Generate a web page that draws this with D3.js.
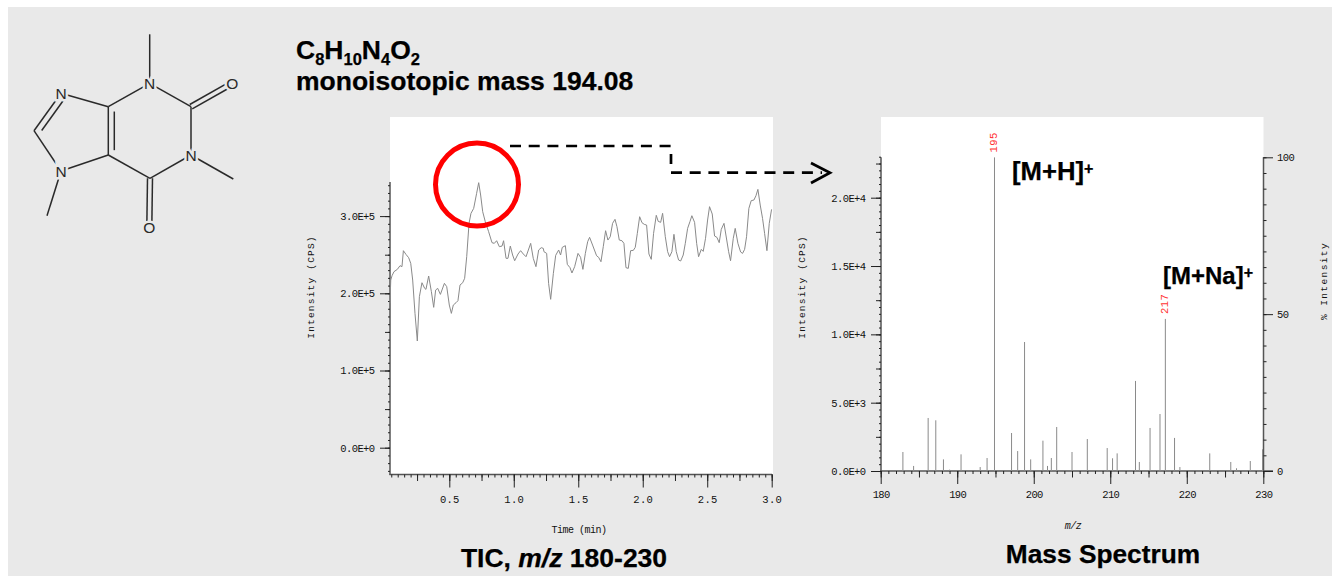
<!DOCTYPE html>
<html>
<head>
<meta charset="utf-8">
<script src="https://cdn.jsdelivr.net/npm/d3@7"></script>
<style>
  html, body { margin: 0; padding: 0; background: #fff; }
  svg { display: block; }
  .tick-label { font-family: "Liberation Mono", monospace; font-size: 10.5px; fill: #111; }
  .bold { font-family: "Liberation Sans", Arial, sans-serif; font-weight: bold; fill: #000; stroke: #000; stroke-width: 0.25px; }
</style>
</head>
<body>
<script>
// TIC trace, time in min and intensity in CPS
var ticTime = [0.040,0.046,0.056,0.071,0.097,0.118,0.133,0.144,0.164,0.185,0.201,0.216,0.234,0.252,0.268,0.288,0.309,0.319,0.340,0.361,0.379,0.394,0.410,0.431,0.462,0.480,0.500,0.516,0.531,0.552,0.567,0.583,0.604,0.619,0.635,0.653,0.668,0.689,0.712,0.728,0.743,0.759,0.779,0.805,0.831,0.849,0.867,0.888,0.909,0.921,0.940,0.955,0.973,0.991,1.007,1.033,1.053,1.074,1.095,1.131,1.151,1.172,1.193,1.213,1.229,1.234,1.255,1.270,1.286,1.307,1.325,1.348,1.363,1.376,1.400,1.415,1.436,1.451,1.472,1.498,1.518,1.536,1.555,1.573,1.588,1.611,1.642,1.658,1.676,1.694,1.712,1.730,1.748,1.766,1.785,1.800,1.818,1.839,1.854,1.870,1.888,1.906,1.927,1.942,1.958,1.976,1.994,2.012,2.030,2.048,2.066,2.084,2.105,2.120,2.139,2.154,2.175,2.193,2.208,2.226,2.242,2.260,2.278,2.294,2.314,2.330,2.348,2.366,2.381,2.402,2.418,2.433,2.454,2.469,2.487,2.503,2.518,2.539,2.557,2.575,2.593,2.609,2.630,2.645,2.666,2.681,2.702,2.717,2.738,2.759,2.774,2.790,2.805,2.823,2.841,2.862,2.878,2.893,2.911,2.929,2.945,2.963,2.981,2.999];
var ticIntensity = [187000,217200,222800,228000,231000,235800,234500,255200,250400,246100,238800,217200,174000,138200,195600,213700,206400,205100,222400,202100,181800,204200,206400,198600,212900,208600,184800,174000,184800,187800,190400,210700,213700,219400,247400,290600,303500,310000,329500,343300,327300,305700,292800,279800,265600,264700,268100,260400,261200,268100,245300,245300,261200,249600,242200,250900,255200,250900,247400,264700,245300,234500,256100,259100,258200,253900,251700,212900,192200,225800,249200,256100,249600,259500,261700,237500,233200,226300,234500,251700,246600,231000,251700,266900,272500,262500,248700,246600,240900,260400,281100,269000,273300,290600,295800,286300,269000,268100,264700,233200,232300,255200,255600,259500,277600,299200,291500,289300,288400,250900,244000,277600,301000,293200,291900,303600,273300,253900,247400,253900,276400,253900,243100,241800,249600,264700,284100,292800,300500,291900,264700,247400,256900,254300,271200,294900,312200,302700,274200,272500,265600,282800,290600,275500,253900,242200,271200,284100,264700,253500,251700,256900,273300,310000,320000,320800,326400,334600,314300,297100,277600,255200,290600,308700];

// spectrum peaks, m/z and intensity in CPS
var peakMz = [182.9,184.3,186.2,187.2,188.2,189.0,190.5,193.0,193.9,194.87,197.1,197.9,198.8,199.6,201.2,201.8,202.3,203.0,205.0,207.0,209.6,210.3,210.9,213.3,213.8,215.2,216.5,217.2,218.4,219.1,223.0,225.75,226.5,228.3,229.9];
var peakIntensity = [1390,370,3880,3710,850,100,1220,290,950,22950,2780,1460,9440,850,2220,370,950,3220,1390,2340,1680,930,1290,6590,660,3150,4170,11130,2420,290,1290,660,200,730,1590];
var labelledPeaks = [194.87, 217.2];
var labelledText = ["195", "217"];

// tick labels
var ticXLabels = [0.5, 1.0, 1.5, 2.0, 2.5, 3.0];
var ticYLabels = [0, 100000, 200000, 300000];
var msXLabels = [180, 190, 200, 210, 220, 230];
var msYLabels = [0, 5000, 10000, 15000, 20000];
var pctLabels = [0, 50, 100];

// caffeine structure
var atomNames = ["N3","C2","O2","N1","Me1","C6","O6","C5","C4","N7","C8","N9","Me9","Me3"];
var atomX = [149.7,191,232.3,191,233.3,150,149.3,108.3,108.3,61,34,61,47,149.7];
var atomY = [83.3,106.7,83.3,155,179,178.3,227.3,155,106.7,93.3,130.7,171,215.7,34.3];
var atomText = ["N","","O","N","","","O","","","N","","N","",""];
var bondFrom = ["N3","C2","C2","N1","C6","C6","C5","C4","C4","N7","C8","N9","N1","N9","N3"];
var bondTo = ["C2","O2","N1","C6","O6","C5","C4","N3","N7","C8","N9","C5","Me1","Me9","Me3"];
var bondOrder = [1,2,1,1,2,1,2,1,1,2,1,1,1,1,1];

var w = 1332, h = 576;
var bg = "#e9e9e9", axisColor = "#555", traceColor = "#8a8a8a";

var svg = d3.select("body").append("svg").attr("width", w).attr("height", h);
svg.append("rect").attr("x", 8).attr("y", 7).attr("width", w - 8).attr("height", h - 7).attr("fill", bg);

// white plot panels
svg.append("rect").attr("x", 390).attr("y", 117).attr("width", 383).attr("height", 357).attr("fill", "#fff");
svg.append("rect").attr("x", 881).attr("y", 117).attr("width", 382.5).attr("height", 354).attr("fill", "#fff");

// scales
var ticX = d3.scaleLinear().domain([0.5, 3.0]).range([449.3, 771.7]);
var ticY = d3.scaleLinear().domain([0, 300000]).range([447.7, 216.1]);
var msX = d3.scaleLinear().domain([180, 230]).range([880.7, 1263.3]);
var msY = d3.scaleLinear().domain([0, 20000]).range([471, 197.7]);
var pctY = d3.scaleLinear().domain([0, 100]).range([471, 157.3]);

function steps(start, stop, step) {
  return d3.range(Math.round((stop - start) / step) + 1).map(function(i) { return start + i * step; });
}

// draws one layer of ticks; the last layer carries the labels
function drawAxis(axisFn, scale, values, size, fmt, x, y) {
  var g = svg.append("g").attr("transform", "translate(" + x + "," + y + ")")
    .call(axisFn(scale).tickValues(values).tickSize(size).tickPadding(4).tickFormat(fmt || ""));
  g.select(".domain").remove();
  g.selectAll("line").attr("stroke", "#222").attr("stroke-width", 1);
  g.selectAll("text").attr("class", "tick-label").attr("fill", null);
  return g;
}
function spine(x1, y1, x2, y2) {
  svg.append("line").attr("x1", x1).attr("y1", y1).attr("x2", x2).attr("y2", y2)
    .attr("stroke", axisColor).attr("stroke-width", 1.5);
}
function fmtE(d) {
  if (d === 0) return "0.0E+0";
  var e = Math.floor(Math.log10(d));
  return (d / Math.pow(10, e)).toFixed(1) + "E+" + e;
}
function spaced(sel, ls) { sel.style("letter-spacing", ls + "px"); }

// TIC axes
spine(390, 182, 390, 475);
spine(389.5, 474.5, 772, 474.5);
drawAxis(d3.axisLeft, ticY, steps(-30000, 340000, 10000), 2, null, 390, 0);
drawAxis(d3.axisLeft, ticY, steps(0, 300000, 50000), 5, null, 390, 0);
var tl = drawAxis(d3.axisLeft, ticY, ticYLabels, 10, fmtE, 390, 0);
tl.selectAll("text").attr("dx", -1.5).call(spaced, -0.6);
drawAxis(d3.axisBottom, ticX, steps(0.05, 3.0, 0.05), 3, null, 0, 474.5);
drawAxis(d3.axisBottom, ticX, steps(0.25, 3.0, 0.25), 6.5, null, 0, 474.5);
var tb = drawAxis(d3.axisBottom, ticX, ticXLabels, 13, d3.format(".1f"), 0, 474.5);
tb.selectAll("text").attr("dy", "1.05em").call(spaced, 0.3);

// TIC trace
var line = d3.line()
  .x(function(d, i) { return ticX(ticTime[i]); })
  .y(function(d) { return ticY(d); });
svg.append("path").datum(ticIntensity).attr("d", line)
  .attr("fill", "none").attr("stroke", traceColor).attr("stroke-width", 1);

// spectrum axes
spine(881, 157.3, 881, 471);
spine(880, 471, 1273, 471);
spine(1263.5, 157.3, 1263.5, 471);
drawAxis(d3.axisLeft, msY, steps(0, 23000, 500), 2, null, 881, 0);
drawAxis(d3.axisLeft, msY, steps(0, 22500, 2500), 5, null, 881, 0);
var ml = drawAxis(d3.axisLeft, msY, msYLabels, 10, fmtE, 881, 0);
ml.selectAll("text").attr("dx", -1.5).call(spaced, -0.6);
drawAxis(d3.axisBottom, msX, steps(180, 230, 1), 3, null, 0, 471);
drawAxis(d3.axisBottom, msX, steps(180, 230, 5), 6.5, null, 0, 471);
var mb = drawAxis(d3.axisBottom, msX, msXLabels, 13, d3.format("d"), 0, 471);
mb.selectAll("text").attr("dy", "0.95em").call(spaced, -0.6);
drawAxis(d3.axisRight, pctY, steps(0, 100, 5), 3, null, 1263.5, 0);
var pr = drawAxis(d3.axisRight, pctY, pctLabels, 9.5, d3.format("d"), 1263.5, 0);
pr.selectAll("text").call(spaced, -0.6);

// spectrum peaks
svg.append("g").selectAll("line").data(peakMz).enter().append("line")
  .attr("x1", function(d) { return msX(d); })
  .attr("x2", function(d) { return msX(d); })
  .attr("y1", msY(0))
  .attr("y2", function(d, i) { return msY(peakIntensity[i]); })
  .attr("stroke", traceColor).attr("stroke-width", 1);

// red m/z labels over the two main peaks
svg.append("g").selectAll("text").data(labelledPeaks).enter().append("text")
  .attr("transform", function(d) {
    var v = peakIntensity[peakMz.indexOf(d)];
    return "translate(" + (msX(d) + 3) + "," + (msY(v) - 5) + ") rotate(-90)";
  })
  .attr("font-family", "Liberation Mono, monospace").attr("font-size", 10.5)
  .attr("fill", "#f33").style("letter-spacing", "0.4px")
  .text(function(d, i) { return labelledText[i]; });

// axis titles
function axisTitle(x, y, rot, txt, ls, size, style) {
  var t = svg.append("text").attr("transform", "translate(" + x + "," + y + ") rotate(" + rot + ")")
    .attr("text-anchor", "middle").attr("class", "tick-label")
    .style("font-size", size + "px")
    .style("letter-spacing", ls + "px").text(txt);
  if (style) t.style("font-style", style);
  return t;
}
axisTitle(314, 287, -90, "Intensity (CPS)", 1.2, 9.5);
axisTitle(805, 287, -90, "Intensity (CPS)", 1.2, 9.5);
axisTitle(1327, 281, -90, "% Intensity", 1.4, 9.5);
axisTitle(579, 533, 0, "Time (min)", -0.5, 10);
axisTitle(1073, 529, 0, "m/z", -0.5, 10, "italic");

// headings
var f = svg.append("text").attr("class", "bold").attr("x", 296).attr("y", 59).attr("font-size", 26.5);
[["C", 0], ["8", 1], ["H", 0], ["10", 1], ["N", 0], ["4", 1], ["O", 0], ["2", 1]].forEach(function(p, i, all) {
  var prevSub = i > 0 && all[i - 1][1];
  f.append("tspan").text(p[0])
    .attr("dy", p[1] ? 6 : (prevSub ? -6 : 0))
    .attr("font-size", p[1] ? 16.5 : 26.5);
});
svg.append("text").attr("class", "bold").attr("x", 296).attr("y", 90).attr("font-size", 26.5).text("monoisotopic mass 194.08");

var tic = svg.append("text").attr("class", "bold").attr("x", 564).attr("y", 567).attr("text-anchor", "middle").attr("font-size", 26.5);
tic.append("tspan").text("TIC, ");
tic.append("tspan").style("font-style", "italic").text("m/z");
tic.append("tspan").text(" 180-230");
svg.append("text").attr("class", "bold").attr("x", 1103).attr("y", 563).attr("text-anchor", "middle").attr("font-size", 26.3).text("Mass Spectrum");

function ionLabel(x, y, txt, size) {
  var t = svg.append("text").attr("class", "bold").attr("x", x).attr("y", y).attr("font-size", size).text(txt);
  t.append("tspan").attr("dy", -6).attr("font-size", 16).text("+");
}
ionLabel(1012, 180, "[M+H]", 25.7);
ionLabel(1163, 284, "[M+Na]", 24);

// red circle and dashed arrow
svg.append("circle").attr("cx", 477).attr("cy", 184.5).attr("r", 41.5)
  .attr("fill", "none").attr("stroke", "#f00").attr("stroke-width", 5);
function dashed(points, dash) {
  svg.append("path").attr("d", d3.line()(points)).attr("fill", "none")
    .attr("stroke", "#000").attr("stroke-width", 2.7).attr("stroke-dasharray", dash);
}
dashed([[510, 146], [671, 146]], "11,7.7");
dashed([[671, 154], [671, 164]], null);
dashed([[671, 172.7], [822, 172.7]], "11,7.7");
svg.append("path").attr("d", d3.line()([[811, 163], [830, 172.7], [811, 183]]))
  .attr("fill", "none").attr("stroke", "#000").attr("stroke-width", 2.7);

// molecule
var mol = svg.append("g");
function atomPos(name) {
  var i = atomNames.indexOf(name);
  return [atomX[i], atomY[i]];
}
function seg(x1, y1, x2, y2) {
  mol.append("line").attr("x1", x1).attr("y1", y1).attr("x2", x2).attr("y2", y2)
    .attr("stroke", "#2a2a2a").attr("stroke-width", 1.5);
}
bondFrom.forEach(function(a, i) {
  var p = atomPos(a), q = atomPos(bondTo[i]);
  var dx = q[0] - p[0], dy = q[1] - p[1], len = Math.hypot(dx, dy);
  var nx = -dy / len, ny = dx / len;
  if (bondOrder[i] === 1) {
    seg(p[0], p[1], q[0], q[1]);
  } else if (a === "C5") {
    // ring double bond, inner line to the right
    seg(p[0], p[1], q[0], q[1]);
    seg(p[0] + 6, p[1] - dy * -0.1, q[0] + 6, q[1] + dy * -0.1);
  } else if (a === "N7") {
    seg(p[0], p[1], q[0], q[1]);
    seg(p[0] + 5 + dx * 0.1, p[1] + 3.5 + dy * 0.1, q[0] + 5 - dx * 0.1, q[1] + 3.5 - dy * 0.1);
  } else {
    // carbonyl, two lines either side of the bond
    seg(p[0] + nx * 2.5, p[1] + ny * 2.5, q[0] + nx * 2.5, q[1] + ny * 2.5);
    seg(p[0] - nx * 2.5, p[1] - ny * 2.5, q[0] - nx * 2.5, q[1] - ny * 2.5);
  }
});
mol.selectAll("text").data(atomText.map(function(t, i) { return { t: t, x: atomX[i], y: atomY[i] }; }).filter(function(d) { return d.t; }))
  .enter().append("text")
  .attr("x", function(d) { return d.x; })
  .attr("y", function(d) { return d.y + 5.5; })
  .attr("text-anchor", "middle")
  .attr("font-family", "Liberation Sans, Arial, sans-serif")
  .attr("font-size", 15.5).attr("fill", "#2a2a2a")
  .attr("stroke", bg).attr("stroke-width", 5).style("paint-order", "stroke")
  .text(function(d) { return d.t; });
</script>
</body>
</html>
